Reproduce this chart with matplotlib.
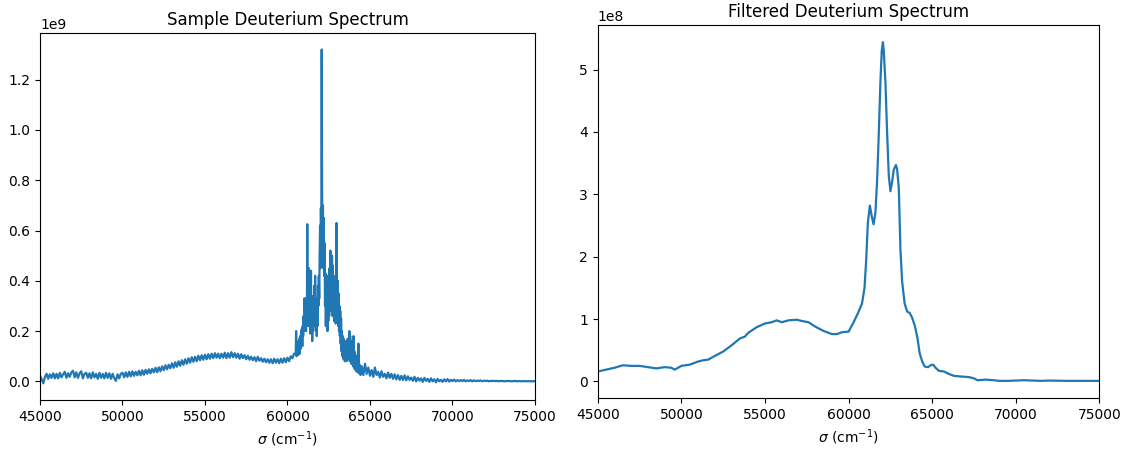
import numpy as np
import matplotlib
matplotlib.use("Agg")
import matplotlib.pyplot as plt

# raw spectrum, values in units of 1e6 counts
raw_x1 = np.arange(45000, 60500, 100)
raw_y1 = [
    22, 8, -8, 18, 30, 10, 28, 14, 32, 12,
    30, 12, 34, 16, 28, 38, 14, 32, 18, 36,
    42, 16, 36, 14, 32, 40, 12, 30, 34, 14,
    32, 12, 36, 16, 30, 10, 34, 14, 30, 12,
    34, 14, 32, 10, 30, 12, 2, 28, 12, 30,
    34, 16, 36, 18, 38, 20, 40, 22, 38, 24,
    42, 24, 44, 26, 46, 30, 48, 32, 50, 36,
    54, 36, 56, 40, 60, 44, 64, 48, 66, 52,
    72, 54, 76, 58, 80, 62, 84, 66, 88, 70,
    92, 74, 96, 78, 98, 80, 102, 84, 104, 86,
    106, 88, 108, 90, 110, 92, 112, 94, 110, 92,
    110, 94, 114, 92, 112, 94, 116, 96, 112, 94,
    110, 90, 108, 92, 104, 88, 102, 86, 98, 84,
    96, 80, 98, 82, 92, 78, 90, 76, 88, 74,
    88, 72, 90, 74, 88, 72, 90, 74, 92, 76,
    94, 80, 100, 92, 110,
]
raw_x2 = np.arange(60500, 64500, 25)
raw_y2 = [
    110, 200, 100, 140, 110, 150, 105, 160,
    120, 170, 110, 180, 130, 200, 150, 210,
    140, 220, 180, 260, 200, 330, 220, 300,
    330, 200, 300, 220, 625, 250, 340, 220,
    450, 230, 360, 190, 300, 440, 220, 340,
    160, 300, 200, 330, 220, 380, 250, 420,
    300, 200, 330, 180, 300, 220, 380, 300,
    420, 330, 500, 620, 450, 690, 560, 1320,
    720, 600, 700, 450, 650, 420, 550, 300,
    430, 220, 400, 250, 420, 200, 380, 240,
    420, 260, 450, 300, 520, 280, 480, 300,
    500, 260, 460, 280, 420, 240, 380, 250,
    400, 230, 450, 630, 380, 250, 400, 220,
    350, 200, 300, 180, 280, 150, 250, 120,
    200, 100, 180, 90, 170, 100, 150, 80,
    160, 90, 150, 80, 140, 90, 170, 100,
    140, 90, 200, 80, 180, 100, 160, 70,
    150, 70, 140, 60, 180, 70, 120, 50,
    110, 45, 100, 40, 90, 40, 80, 35,
    150, 40, 70, 30, 60, 25, 55, 30,
]
raw_x3 = np.arange(64500, 75001, 100)
raw_y3 = [
    60, 25, 70, 30, 55, 22, 45, 18, 55, 25,
    38, 15, 40, 18, 30, 12, 35, 14, 30, 10,
    28, 8, 25, 6, 22, 5, 24, 4, 20, 6,
    15, 2, 18, 0, 14, 3, 12, -2, 14, 2,
    10, -2, 12, 0, 8, -4, 10, 0, 6, -2,
    8, 0, 9, -1, 6, 1, 7, 0, 5, 1,
    5, 1, 6, 0, 4, 1, 5, 0, 4, 1,
    3, 1, 4, 0, 3, 1, 3, 0, 2, 1,
    2, 1, 2, 0, 2, 1, 1, 0, 2, 1,
    1, 0, 1, 2, 0, 1, 1, 0, 1, 1,
    0, 1, 0, 1, 0, 1,
]

# filtered spectrum, values in units of 1e8
filt_x = [
    45000, 45500, 46000, 46500, 47000, 47500, 48000, 48500, 49000, 49400,
    49600, 49800, 50000, 50500, 51000, 51300, 51600, 52000, 52500, 53000,
    53500, 53800, 54000, 54500, 55000, 55400, 55700, 56000, 56400, 56900,
    57200, 57600, 58000, 58500, 59000, 59300, 59600, 60000, 60300, 60600,
    60800, 60950, 61050, 61150, 61270, 61380, 61490, 61600, 61700, 61800,
    61900, 61980, 62050, 62100, 62200, 62300, 62400, 62500, 62600, 62700,
    62830, 62900, 63000, 63100, 63200, 63350, 63500, 63650, 63800, 63950,
    64100, 64250, 64400, 64550, 64750, 64900, 65060, 65200, 65400, 65700,
    66000, 66300, 66700, 67200, 67500, 67700, 68200, 68700, 69000, 69500,
    70000, 70500, 71000, 71500, 72000, 73000, 74000, 75000,
]
filt_y = [
    0.16, 0.19, 0.22, 0.26, 0.25, 0.25, 0.23, 0.21, 0.23, 0.22,
    0.19, 0.22, 0.25, 0.27, 0.32, 0.34, 0.35, 0.41, 0.48, 0.58,
    0.69, 0.72, 0.78, 0.87, 0.93, 0.95, 0.98, 0.95, 0.98, 0.99,
    0.97, 0.95, 0.88, 0.81, 0.76, 0.76, 0.79, 0.80, 0.95, 1.12,
    1.25, 1.50, 1.95, 2.55, 2.82, 2.65, 2.52, 2.70, 3.20, 3.95,
    4.80, 5.30, 5.44, 5.30, 4.80, 4.00, 3.30, 3.05, 3.20, 3.40,
    3.47, 3.40, 3.10, 2.10, 1.60, 1.25, 1.12, 1.10, 1.02, 0.90,
    0.72, 0.45, 0.32, 0.24, 0.23, 0.26, 0.27, 0.22, 0.17, 0.16,
    0.12, 0.09, 0.08, 0.07, 0.05, 0.02, 0.03, 0.02, 0.01, 0.01,
    0.015, 0.02, 0.015, 0.01, 0.015, 0.01, 0.01, 0.01,
]

raw_x = np.concatenate([raw_x1, raw_x2, raw_x3])
raw_y = np.array(raw_y1 + raw_y2 + raw_y3, float) * 1e6

fig = plt.figure(figsize=(11.3, 4.5), dpi=100)
ax1 = fig.add_axes([0.0354, 0.111, 0.438, 0.816])
ax2 = fig.add_axes([0.529, 0.116, 0.444, 0.828])

ax1.plot(raw_x, raw_y, lw=1.6)
ax1.set_xlim(45000, 75000)
ax1.set_title("Sample Deuterium Spectrum")
ax1.set_xlabel(r"$\sigma$ (cm$^{-1}$)")

ax2.plot(filt_x, np.array(filt_y) * 1e8, lw=1.6)
ax2.set_xlim(45000, 75000)
ax2.set_title("Filtered Deuterium Spectrum")
ax2.set_xlabel(r"$\sigma$ (cm$^{-1}$)")

fig.savefig("out.png", dpi=100)
